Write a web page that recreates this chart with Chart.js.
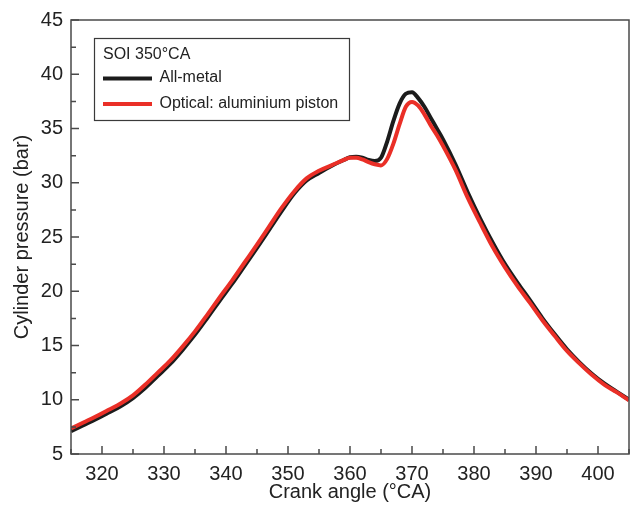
<!DOCTYPE html>
<html>
<head>
<meta charset="utf-8">
<script src="https://cdn.jsdelivr.net/npm/chart.js@4.4.1/dist/chart.umd.min.js"></script>
<style>
  html, body { margin: 0; padding: 0; background: #ffffff; }
  #wrap { width: 634px; height: 505px; }
</style>
</head>
<body>
<div id="wrap"><canvas id="c" width="634" height="505"></canvas></div>
<script>
// ---- data ----
const crankAngle = [315,317,319,321,323,325,327,329,331,333,335,337,339,341,343,345,347,349,351,353,355,357,359,360,361,362,363,364,365,366,367,368,369,370,371,372,373,374,375,377,379,381,383,385,387,389,391,393,395,397,399,401,403,405];
const allMetal = [7.1,7.65,8.2,8.8,9.4,10.15,11.1,12.2,13.3,14.6,16.0,17.55,19.15,20.7,22.35,24.0,25.7,27.4,29.0,30.2,30.9,31.55,32.1,32.35,32.4,32.3,32.1,32.0,32.3,33.8,35.7,37.3,38.2,38.35,37.8,37.0,36.0,35.0,34.0,31.7,29.1,26.7,24.5,22.5,20.8,19.2,17.55,16.05,14.65,13.45,12.4,11.5,10.75,10.0];
const optical  = [7.35,7.9,8.45,9.05,9.65,10.4,11.4,12.5,13.6,14.9,16.3,17.85,19.45,21.0,22.65,24.3,26.0,27.7,29.2,30.4,31.1,31.6,32.1,32.3,32.3,32.15,31.9,31.7,31.6,32.2,33.6,35.4,37.0,37.45,37.1,36.3,35.3,34.4,33.4,31.2,28.6,26.3,24.1,22.2,20.5,18.95,17.35,15.9,14.5,13.35,12.3,11.4,10.7,9.95];
const xTickLabels = [320,330,340,350,360,370,380,390,400];
const xMinorTicks = [315,325,335,345,355,365,375,385,395,405];
const yTickLabels = [5,10,15,20,25,30,35,40,45];
const yMinorTicks = [7.5,12.5,17.5,22.5,27.5,32.5,37.5,42.5];
const seriesNames = ['All-metal', 'Optical: aluminium piston'];
const legendTitle = 'SOI 350°CA';
const xTitle = 'Crank angle (°CA)';
const yTitle = 'Cylinder pressure (bar)';

const FONT = '"Liberation Sans", Arial, Helvetica, sans-serif';
const BLACK = '#1c1c1c';
const RED = '#ea2f27';
const AXIS = '#4a4a4a';

function pts(ys) { return crankAngle.map((x, i) => ({x: x, y: ys[i]})); }

const frameAndTicks = {
  id: 'frameAndTicks',
  afterDatasetsDraw(chart) {
    const ctx = chart.ctx;
    const a = chart.chartArea;
    const xs = chart.scales.x, ys = chart.scales.y;
    ctx.save();
    ctx.strokeStyle = AXIS;
    ctx.lineWidth = 1.5;
    ctx.strokeRect(a.left, a.top, a.right - a.left, a.bottom - a.top);
    ctx.beginPath();
    xTickLabels.forEach(v => { const p = xs.getPixelForValue(v); ctx.moveTo(p, a.bottom); ctx.lineTo(p, a.bottom - 8); });
    xMinorTicks.forEach(v => { const p = xs.getPixelForValue(v); ctx.moveTo(p, a.bottom); ctx.lineTo(p, a.bottom - 5); });
    yTickLabels.forEach(v => { const p = ys.getPixelForValue(v); ctx.moveTo(a.left, p); ctx.lineTo(a.left + 8, p); });
    yMinorTicks.forEach(v => { const p = ys.getPixelForValue(v); ctx.moveTo(a.left, p); ctx.lineTo(a.left + 5, p); });
    ctx.stroke();

    // legend box
    const bx = 94.5, by = 38.5, bw = 255, bh = 82;
    ctx.fillStyle = '#ffffff';
    ctx.fillRect(bx, by, bw, bh);
    ctx.lineWidth = 1.2;
    ctx.strokeStyle = '#3a3a3a';
    ctx.strokeRect(bx, by, bw, bh);
    ctx.fillStyle = '#222';
    ctx.font = '16px ' + FONT;
    ctx.textBaseline = 'middle';
    ctx.textAlign = 'left';
    ctx.fillText(legendTitle, 103, 55);
    const rows = [78.5, 104];
    chart.data.datasets.slice().sort((p, q) => p.legendIndex - q.legendIndex).forEach((ds, i) => {
      ctx.strokeStyle = ds.borderColor;
      ctx.lineWidth = 4;
      ctx.beginPath();
      ctx.moveTo(103, rows[i]);
      ctx.lineTo(152, rows[i]);
      ctx.stroke();
      ctx.fillStyle = '#222';
      ctx.fillText(ds.label, 159.5, rows[i] - 0.5);
    });
    ctx.restore();
  }
};

new Chart(document.getElementById('c'), {
  type: 'line',
  data: {
    datasets: [
      { label: seriesNames[1], legendIndex: 1, data: pts(optical), borderColor: RED, backgroundColor: RED, borderWidth: 4, pointRadius: 0, cubicInterpolationMode: 'monotone' },
      { label: seriesNames[0], legendIndex: 0, data: pts(allMetal), borderColor: BLACK, backgroundColor: BLACK, borderWidth: 4, pointRadius: 0, cubicInterpolationMode: 'monotone' }
    ]
  },
  options: {
    responsive: false,
    animation: false,
    devicePixelRatio: 1,
    layout: { padding: { top: 19, right: 5, left: 0, bottom: 0 } },
    plugins: { legend: { display: false }, tooltip: { enabled: false } },
    scales: {
      x: {
        type: 'linear', min: 315, max: 405,
        afterBuildTicks: s => { s.ticks = xTickLabels.map(v => ({ value: v })); },
        afterFit: s => { s.height = 51; },
        grid: { display: false, drawTicks: false },
        border: { display: false },
        ticks: { padding: 8, color: '#222', font: { family: FONT, size: 20 }, maxRotation: 0, autoSkip: false },
        title: { display: true, text: xTitle, color: '#222', font: { family: FONT, size: 20 }, padding: { top: 0, bottom: 1 } }
      },
      y: {
        type: 'linear', min: 5, max: 45,
        afterBuildTicks: s => { s.ticks = yTickLabels.map(v => ({ value: v })); },
        afterFit: s => { s.width = 71; },
        grid: { display: false, drawTicks: false },
        border: { display: false },
        ticks: { padding: 8, color: '#222', font: { family: FONT, size: 20 }, autoSkip: false },
        title: { display: true, text: yTitle, color: '#222', font: { family: FONT, size: 20 }, padding: { top: 10, bottom: 0 } }
      }
    }
  },
  plugins: [frameAndTicks]
});
</script>
</body>
</html>
